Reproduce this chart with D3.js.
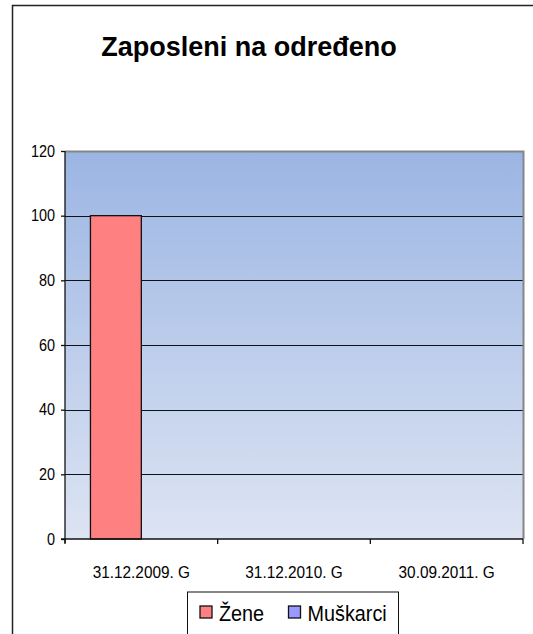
<!DOCTYPE html>
<html lang="sr">
	<head>
		<meta charset="utf-8">
		<title>Zaposleni na određeno</title>
		<script src="https://d3js.org/d3.v7.min.js"></script>
		<style>
			body { margin: 0; background: #fff; }
			text { font-family: "Liberation Sans", Arial, sans-serif; fill: #000; }
		</style>
	</head>
	<body>
		<script>

			//Data
			var categories = ["31.12.2009. G", "31.12.2010. G", "30.09.2011. G"];
			var seriesNames = ["Žene", "Muškarci"];
			var zene = [100, null, null];
			var muskarci = [null, null, null];
			var yTicks = [0, 20, 40, 60, 80, 100, 120];
			var seriesColors = ["#ff8080", "#9999ff"];

			//Width and height
			var w = 533;
			var h = 634;
			var plot = { left: 65, right: 523, top: 151, bottom: 539 };

			//squeeze text a little, the original font is narrower than Arial
			function narrow(sel, k) {
				sel.each(function() {
					var len = this.getComputedTextLength();
					d3.select(this)
						.attr("textLength", len * k)
						.attr("lengthAdjust", "spacingAndGlyphs");
				});
			}

			var svg = d3.select("body")
						.append("svg")
						.attr("width", w)
						.attr("height", h);

			//gradient for plot area
			var grad = svg.append("defs").append("linearGradient")
						.attr("id", "plotBg")
						.attr("x1", 0).attr("y1", 0)
						.attr("x2", 0).attr("y2", 1);
			grad.append("stop").attr("offset", "0%").attr("stop-color", "#9bb5e3");
			grad.append("stop").attr("offset", "100%").attr("stop-color", "#dde4f3");

			//outer frame (runs past the right and bottom edge)
			svg.append("rect")
				.attr("x", 12.5).attr("y", 5.5)
				.attr("width", 600).attr("height", 700)
				.attr("fill", "none")
				.attr("stroke", "#222")
				.attr("stroke-width", 1.5);

			//title
			svg.append("text")
				.attr("x", 249)
				.attr("y", 56)
				.attr("text-anchor", "middle")
				.style("font-size", "27px")
				.style("font-weight", "bold")
				.text("Zaposleni na određeno");

			//scales
			var x0 = d3.scaleBand()
						.domain(categories)
						.range([plot.left, plot.right])
						.paddingInner(0).paddingOuter(0);

			var x1 = d3.scaleBand()
						.domain(seriesNames)
						.range([0, x0.bandwidth()])
						.paddingInner(0).paddingOuter(0.5);

			var y = d3.scaleLinear()
						.domain([0, 120])
						.range([plot.bottom, plot.top]);

			//plot area
			svg.append("rect")
				.attr("x", plot.left).attr("y", plot.top)
				.attr("width", plot.right - plot.left)
				.attr("height", plot.bottom - plot.top)
				.attr("fill", "url(#plotBg)");

			//grid lines
			svg.append("g")
				.selectAll("line")
				.data(yTicks.filter(function(d) { return d > 0 && d < 120; }))
				.enter()
				.append("line")
				.attr("x1", plot.left).attr("x2", plot.right)
				.attr("y1", function(d) { return Math.round(y(d)) + 0.5; })
				.attr("y2", function(d) { return Math.round(y(d)) + 0.5; })
				.attr("stroke", "#111")
				.attr("stroke-width", 1);

			//top and right border of plot area
			svg.append("path")
				.attr("d", "M" + plot.left + "," + (plot.top + 0.5) + "H" + (plot.right + 0.5) + "V" + plot.bottom)
				.attr("fill", "none")
				.attr("stroke", "#868686")
				.attr("stroke-width", 2);

			//bars
			var rows = categories.map(function(c, i) {
				return { cat: c, values: [
					{ name: seriesNames[0], value: zene[i] },
					{ name: seriesNames[1], value: muskarci[i] }
				] };
			});

			var groups = svg.append("g")
				.selectAll("g")
				.data(rows)
				.enter()
				.append("g")
				.attr("transform", function(d) { return "translate(" + x0(d.cat) + ",0)"; });

			groups.selectAll("rect")
				.data(function(d) { return d.values.filter(function(v) { return v.value; }); })
				.enter()
				.append("rect")
				.attr("x", function(d) { return x1(d.name); })
				.attr("y", function(d) { return y(d.value); })
				.attr("width", x1.bandwidth())
				.attr("height", function(d) { return y(0) - y(d.value); })
				.attr("fill", function(d) { return seriesColors[seriesNames.indexOf(d.name)]; })
				.attr("stroke", "#111")
				.attr("stroke-width", 1.3);

			//y axis
			var yAxis = svg.append("g")
				.attr("transform", "translate(" + plot.left + ",0)")
				.call(d3.axisLeft(y).tickValues(yTicks).tickSize(4).tickPadding(6));
			yAxis.selectAll("text")
				.style("font-size", "16px")
				.style("font-family", "Liberation Sans, Arial, sans-serif")
				.call(narrow, 0.9);
			yAxis.selectAll("line, path").attr("stroke", "#111").attr("stroke-width", 1.3);
			yAxis.select(".domain").attr("d", "M0," + (plot.top) + "V" + (plot.bottom + 4));

			//x axis
			var xAxis = svg.append("g")
				.attr("transform", "translate(0," + plot.bottom + ")")
				.call(d3.axisBottom(x0).tickSize(0).tickPadding(28));
			xAxis.selectAll("text")
				.style("font-size", "16px")
				.style("font-family", "Liberation Sans, Arial, sans-serif")
				.call(narrow, 0.96);
			xAxis.select(".domain").attr("stroke", "#111").attr("stroke-width", 1.5)
				.attr("d", "M" + (plot.left - 4) + ",0H" + plot.right);

			//x tick marks at category boundaries
			xAxis.append("g")
				.selectAll("line")
				.data(categories.map(function(c) { return x0(c); }).concat([plot.right]))
				.enter()
				.append("line")
				.attr("x1", function(d) { return d; })
				.attr("x2", function(d) { return d; })
				.attr("y1", 0).attr("y2", 5)
				.attr("stroke", "#111")
				.attr("stroke-width", 1.3);

			//legend
			var legend = svg.append("g");
			legend.append("rect")
				.attr("x", 187.5).attr("y", 592)
				.attr("width", 211).attr("height", 80)
				.attr("fill", "#fff")
				.attr("stroke", "#111")
				.attr("stroke-width", 1);

			var legendX = [200, 288.5];
			var items = legend.selectAll(".item")
				.data(seriesNames)
				.enter()
				.append("g")
				.attr("class", "item")
				.attr("transform", function(d, i) { return "translate(" + legendX[i] + ",606)"; });

			items.append("rect")
				.attr("width", 12).attr("height", 12)
				.attr("fill", function(d, i) { return seriesColors[i]; })
				.attr("stroke", "#111")
				.attr("stroke-width", 1.3);

			items.append("text")
				.attr("x", 19)
				.attr("y", 15)
				.style("font-size", "22px")
				.text(function(d) { return d; })
				.call(narrow, 0.9);

		</script>
	</body>
</html>
